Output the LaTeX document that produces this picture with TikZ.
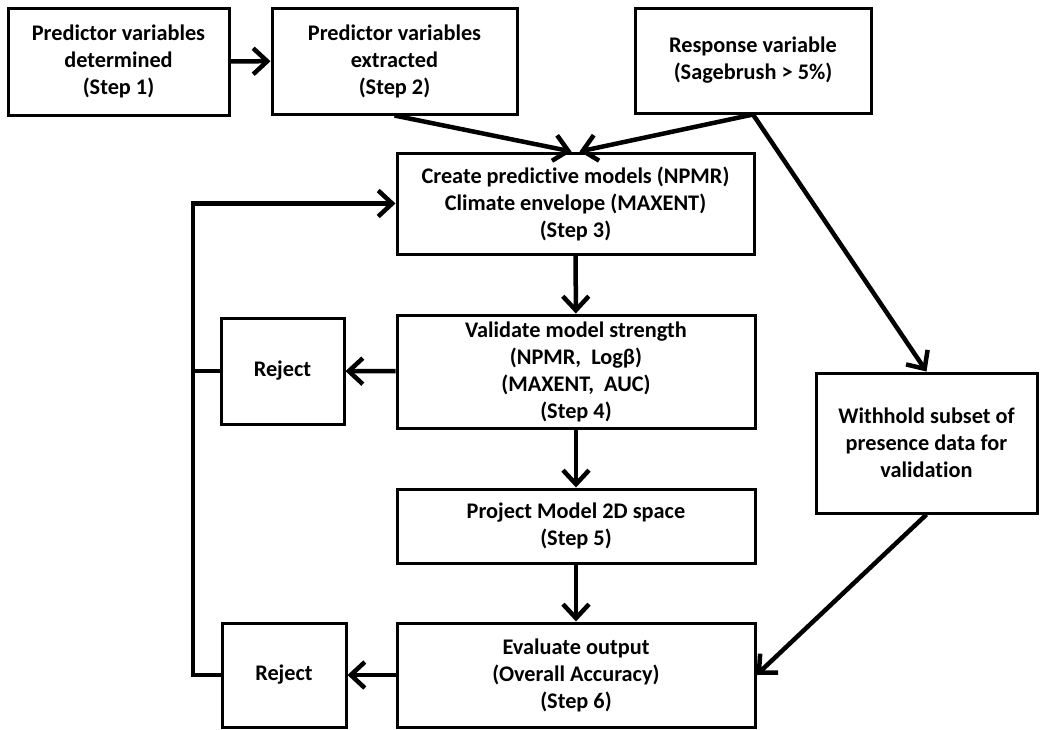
\documentclass[tikz,border=0pt]{standalone}
\usepackage{fontspec}
\setmainfont{Carlito}[Ligatures=NoCommon]
\usetikzlibrary{arrows.meta}

\tikzset{
    box/.style = {draw, line width=3pt, align=center, inner sep=2pt,
                  font=\bfseries\fontsize{22.3}{27}\selectfont},
    flow/.style = {line width=4.5pt, -{Straight Barb[length=14pt,width=26pt]}},
    link/.style = {line width=4.5pt},
}

\begin{document}
\begin{tikzpicture}[x=1pt,y=-1pt]
    \useasboundingbox (0,0) rectangle (1042,729);
    % top row
    \node[box, minimum width=221pt, minimum height=107pt] (determined) at (118.5,61.5) {Predictor variables\\determined\\(Step 1)};
    \node[box, minimum width=245pt, minimum height=106pt] (extracted) at (394.5,61) {Predictor variables\\extracted\\(Step 2)};
    \node[box, minimum width=236pt, minimum height=105pt] (response) at (753,60.5) {Response variable\\(Sagebrush > 5\%)};
    % main column
    \node[box, minimum width=357pt, minimum height=101pt] (create) at (575.5,203.5) {Create predictive models (NPMR)\\Climate envelope (MAXENT)\\(Step 3)};
    \node[box, minimum width=358pt, minimum height=113pt] (validate) at (576,371.5) {Validate model strength\\(NPMR,~ Logβ)\\(MAXENT,~ AUC)\\(Step 4)};
    \node[box, minimum width=358pt, minimum height=74pt] (project) at (576,526) {Project Model 2D space\\(Step 5)};
    \node[box, minimum width=358pt, minimum height=104pt] (evaluate) at (576,675) {Evaluate output\\(Overall Accuracy)\\(Step 6)};
    % side boxes
    \node[box, minimum width=123pt, minimum height=106pt] (reject1) at (282.5,371) {Reject};
    \node[box, minimum width=124pt, minimum height=104pt] (reject2) at (284,675) {Reject};
    \node[box, minimum width=221pt, minimum height=140pt] (withhold) at (926.5,443) {Withhold subset of\\presence data for\\validation};
    \coordinate (loop) at (193,0);

    \draw[flow] (determined) -- (extracted);
    \draw[flow] (extracted.south) -- ([xshift=-4pt]create.north);
    \draw[flow] (response.south) -- ([xshift=4pt]create.north);
    \draw[flow] (response.south) -- (withhold.north);
    \draw[flow] (create) -- (validate);
    \draw[flow] (validate) -- (project);
    \draw[flow] (project) -- (evaluate);
    \draw[flow] (validate) -- (reject1);
    \draw[flow] (evaluate) -- (reject2);
    \draw[flow] (withhold.south) -- (evaluate.east);
    % loop back
    \draw[link] (reject1.west) -- (reject1.west -| loop);
    \draw[flow] (reject2.west) -- (reject2.west -| loop) -- (create.west -| loop) -- (create.west);
\end{tikzpicture}
\end{document}
